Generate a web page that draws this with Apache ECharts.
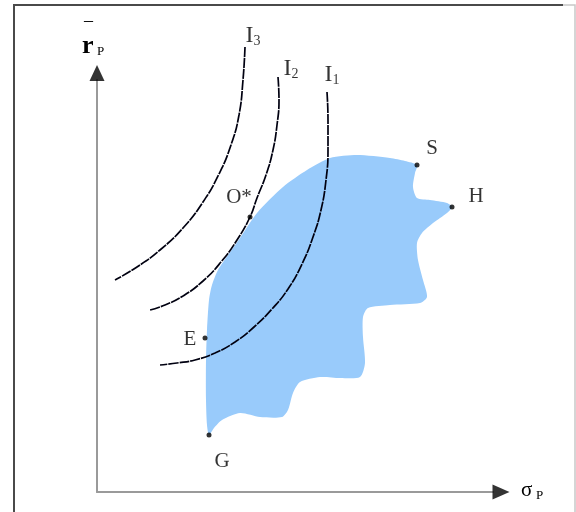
<!DOCTYPE html>
<html>
<head>
<meta charset="utf-8">
<script src="https://cdn.jsdelivr.net/npm/echarts@6/dist/echarts.min.js"></script>
<style>
html,body{margin:0;padding:0;background:#fff;}
#chart{width:576px;height:512px;}
</style>
</head>
<body>
<div id="chart"></div>
<script>
// Diagram data (σP on x, r̄P on y), arbitrary units
const xMax = 396;
const yMax = 412;

// Feasible set boundary (closed shape), starting at G going up the left edge
const feasibleSet = [
  [112,57],[110,67],[109,92],[109,132],[110,162],[112,192],[115,207],[121,222],
  [131,237],[143,254],[160,279],[186,305],[210,322],[233,334],[260,337],[293,334],
  [308,331],[320,327],[318,319],[316,305],[320,294],[333,292],[350,289],[355,285],
  [350,279],[336,269],[325,259],[320,249],[321,232],[326,212],[330,195],[323,189],
  [293,187],[271,184],[266,175],[266,155],[268,129],[263,115],[243,114],[223,115],
  [203,110],[196,99],[191,82],[185,75],[163,75],[143,79],[125,72],[117,64]
];

// Indifference curves
const curveI3 = [[148,445],[146,412],[142,377],[134,347],[122,318],[106,290],[86,264],[63,242],[40,225],[18,212]];
const curveI2 = [[181,415],[182,392],[180,367],[176,342],[169,317],[160,294],[153,275],[140,252],[124,230],[106,211],[86,196],[68,187],[53,182]];
const curveI1 = [[230,400],[231,372],[231,342],[229,312],[224,282],[216,255],[205,228],[191,203],[175,183],[157,165],[138,150],[118,139],[98,132],[80,129],[63,127]];
const curveNames = ['3','2','1'];

// Labelled points
const pointNames = ['O*','E','G','S','H'];
const pointValues = [[153,275],[108,154],[112,57],[320,327],[355,285]];
const pointLabelOffsets = [[-11,-20],[-15,1],[13,26],[15,-17],[24,-11]];

const serif = "'Liberation Serif','Times New Roman',serif";

const chart = echarts.init(document.getElementById('chart'));

const curveLabelOffsets = [[8,-11],[13,-8],[5,-17]];
const curves = [curveI3, curveI2, curveI1];

const option = {
  animation: false,
  backgroundColor: '#fff',
  grid: {left: 97, right: 83, top: 80, bottom: 20},
  xAxis: {
    type: 'value', min: 0, max: xMax,
    axisLine: {show: true, onZero: false, lineStyle: {color: '#9a9a9a', width: 2}},
    axisTick: {show: false}, axisLabel: {show: false}, splitLine: {show: false}
  },
  yAxis: {
    type: 'value', min: 0, max: yMax,
    axisLine: {show: true, onZero: false, lineStyle: {color: '#9a9a9a', width: 2}},
    axisTick: {show: false}, axisLabel: {show: false}, splitLine: {show: false}
  },
  graphic: [
    {type: 'polyline', shape: {points: [[14,512],[14,5],[563,5]]}, style: {stroke: '#4a4a4a', lineWidth: 2, fill: null}},
    {type: 'polyline', shape: {points: [[563,5],[575,5],[575,512]]}, style: {stroke: '#c8c8c8', lineWidth: 1.5, fill: null}},
    {type: 'text', left: 84, top: 12, style: {text: '\u2013', font: '18px ' + serif, fill: '#000'}},
    {type: 'text', left: 82, top: 33, style: {text: 'r', font: 'bold 26px ' + serif, fill: '#000'}},
    {type: 'text', left: 97, top: 45, style: {text: 'P', font: '13px ' + serif, fill: '#000'}},
    {type: 'text', left: 521, top: 480, style: {text: '\u03c3', font: '21px ' + serif, fill: '#000'}},
    {type: 'text', left: 536, top: 489, style: {text: 'P', font: '13px ' + serif, fill: '#000'}}
  ],
  series: [
    {
      type: 'custom',
      z: 1,
      clip: false,
      data: feasibleSet,
      renderItem: function (params, api) {
        if (params.dataIndex !== 0) return null;
        const pts = feasibleSet.map(p => api.coord(p));
        return {type: 'polygon', shape: {points: pts, smooth: 0.25}, style: {fill: '#99cbfb', stroke: null}};
      }
    },
    ...curves.map(c => ({
      type: 'line', z: 2, data: c, smooth: 0.5, symbol: 'none', clip: false,
      lineStyle: {color: '#000010', width: 1.7, type: [10, 1]}
    })),
    {
      type: 'scatter', z: 3, symbolSize: 0.1, clip: false,
      data: curves.map((c, i) => ({
        value: c[0],
        label: {show: true, position: 'inside', offset: curveLabelOffsets[i],
          formatter: '{i|I}{s|' + curveNames[i] + '}',
          rich: {i: {fontFamily: serif, fontSize: 24, color: '#000'}, s: {fontFamily: serif, fontSize: 14, color: '#000', padding: [10,0,0,0]}}}
      }))
    },
    {
      type: 'scatter', z: 4, symbol: 'circle', symbolSize: 5,
      itemStyle: {color: '#000'},
      data: pointValues.map((v, i) => ({
        value: v,
        label: {show: true, position: 'inside', offset: pointLabelOffsets[i], formatter: pointNames[i],
          fontFamily: serif, fontSize: 21, color: '#000'}
      }))
    },
    {
      type: 'scatter', z: 5, symbol: 'triangle', clip: false,
      itemStyle: {color: '#000'},
      data: [
        {value: [0, yMax], symbolSize: [15, 16], symbolOffset: [0, -7]},
        {value: [xMax, 0], symbolSize: [15, 17], symbolRotate: -90, symbolOffset: [8, 0]}
      ]
    }
  ]
};
chart.setOption(option);
</script>
</body>
</html>
